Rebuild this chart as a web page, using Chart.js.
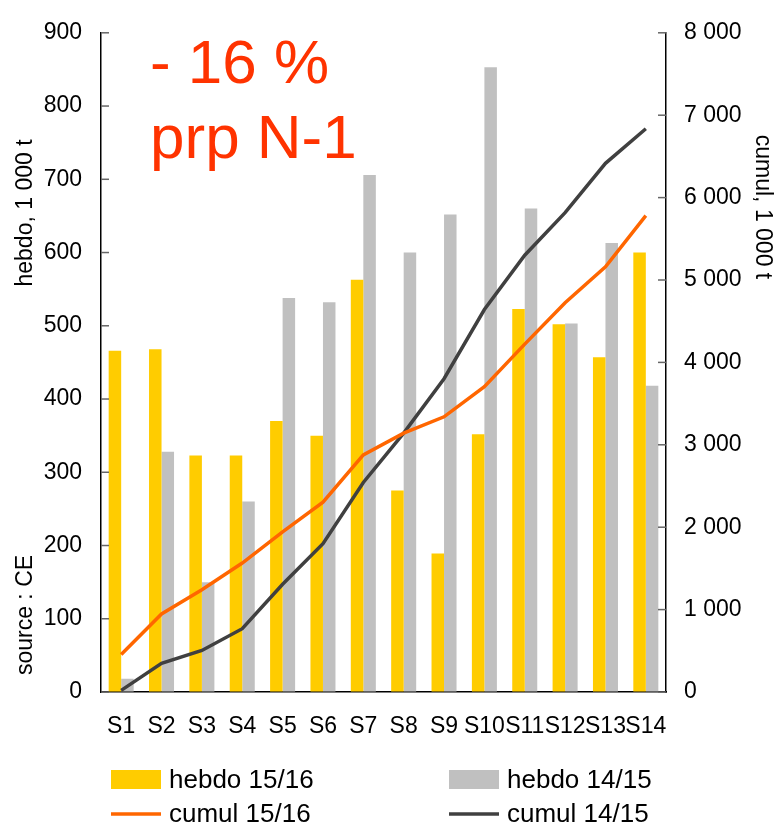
<!DOCTYPE html>
<html>
<head>
<meta charset="utf-8">
<script src="https://cdn.jsdelivr.net/npm/chart.js@4/dist/chart.umd.min.js"></script>
<style>
  body { margin: 0; background: #fff; }
  canvas { display: block; }
</style>
</head>
<body>
<canvas id="c" width="775" height="824"></canvas>
<script>
// weeks
var weeks = ["S1","S2","S3","S4","S5","S6","S7","S8","S9","S10","S11","S12","S13","S14"];

// weekly volumes, 1 000 t
var hebdo1516 = [466, 468, 323, 323, 370, 350, 563, 275, 189, 352, 523, 502, 457, 600];
var hebdo1415 = [18, 328, 150, 260, 538, 532, 706, 600, 652, 853, 660, 503, 613, 418];

// cumulated volumes, 1 000 t
var cumul1516 = [455, 947, 1240, 1565, 1943, 2303, 2878, 3142, 3340, 3706, 4222, 4725, 5160, 5781];
var cumul1415 = [20, 348, 504, 768, 1307, 1799, 2543, 3142, 3802, 4641, 5301, 5817, 6416, 6836];

var leftTicks = [0, 100, 200, 300, 400, 500, 600, 700, 800, 900];
var rightTicks = [0, 1000, 2000, 3000, 4000, 5000, 6000, 7000, 8000];

var FONT = "'Liberation Sans', Arial, sans-serif";

function thousands(v) {
    if (v < 1000) return String(v);
    return Math.floor(v / 1000) + " " + String(v % 1000).padStart(3, "0");
}

// inward tick marks, axis titles, big note, legend
var decor = {
    id: "decor",
    afterDatasetsDraw: function(chart) {
        var ctx = chart.ctx;
        var a = chart.chartArea;
        var yl = chart.scales.y;
        var yr = chart.scales.y2;
        ctx.save();
        ctx.strokeStyle = "#666";
        ctx.lineWidth = 1.5;
        leftTicks.forEach(function(v) {
            var y = yl.getPixelForValue(v);
            ctx.beginPath(); ctx.moveTo(a.left, y); ctx.lineTo(a.left + 8, y); ctx.stroke();
        });
        rightTicks.forEach(function(v) {
            var y = yr.getPixelForValue(v);
            ctx.beginPath(); ctx.moveTo(a.right - 8, y); ctx.lineTo(a.right, y); ctx.stroke();
        });
        ctx.restore();
    },
    afterDraw: function(chart) {
        var ctx = chart.ctx;
        ctx.save();
        ctx.fillStyle = "#000";
        ctx.font = "23px " + FONT;
        ctx.textAlign = "center";
        ctx.textBaseline = "middle";

        ctx.save();
        ctx.translate(26, 213);
        ctx.rotate(-Math.PI / 2);
        ctx.fillText("hebdo, 1 000 t", 0, 0);
        ctx.restore();

        ctx.save();
        ctx.translate(26, 615);
        ctx.rotate(-Math.PI / 2);
        ctx.fillText("source : CE", 0, 0);
        ctx.restore();

        ctx.save();
        ctx.translate(762, 207);
        ctx.rotate(Math.PI / 2);
        ctx.fillText("cumul, 1 000 t", 0, 0);
        ctx.restore();

        // note
        ctx.fillStyle = "#FF3300";
        ctx.font = "62px " + FONT;
        ctx.textAlign = "left";
        ctx.textBaseline = "alphabetic";
        ctx.fillText("- 16 %", 150, 83);
        ctx.fillText("prp N-1", 150, 158);

        // legend, two columns
        var ds = chart.data.datasets;
        var spots = [[111, 780], [449, 780], [111, 814], [449, 814]];
        ctx.font = "26px " + FONT;
        ctx.textBaseline = "middle";
        ds.forEach(function(d, i) {
            var x = spots[i][0], y = spots[i][1];
            if (d.type === "bar") {
                ctx.fillStyle = d.backgroundColor;
                ctx.fillRect(x, y - 10, 50, 19);
            } else {
                ctx.strokeStyle = d.borderColor;
                ctx.lineWidth = 3.5;
                ctx.beginPath(); ctx.moveTo(x, y); ctx.lineTo(x + 50, y); ctx.stroke();
            }
            ctx.fillStyle = "#000";
            ctx.fillText(d.label, x + 58, y + 1);
        });
        ctx.restore();
    }
};

new Chart(document.getElementById("c"), {
    data: {
        labels: weeks,
        datasets: [
            { type: "bar", label: "hebdo 15/16", data: hebdo1516, backgroundColor: "#FFCC00", yAxisID: "y", order: 2,
              categoryPercentage: 0.62, barPercentage: 1.0 },
            { type: "bar", label: "hebdo 14/15", data: hebdo1415, backgroundColor: "#C0C0C0", yAxisID: "y", order: 2,
              categoryPercentage: 0.62, barPercentage: 1.0 },
            { type: "line", label: "cumul 15/16", data: cumul1516, borderColor: "#FF6600", borderWidth: 3.5,
              pointRadius: 0, tension: 0, yAxisID: "y2", order: 0 },
            { type: "line", label: "cumul 14/15", data: cumul1415, borderColor: "#404040", borderWidth: 3.5,
              pointRadius: 0, tension: 0, yAxisID: "y2", order: 1 }
        ]
    },
    options: {
        responsive: false,
        animation: false,
        layout: { padding: { top: 25, left: 0, right: 0, bottom: 0 } },
        plugins: { legend: { display: false }, tooltip: { enabled: false } },
        scales: {
            x: {
                offset: true,
                grid: { display: true, drawOnChartArea: false, drawTicks: false },
                border: { display: true, color: "#000", width: 1.5 },
                ticks: { color: "#000", font: { family: FONT, size: 23 }, padding: 21,
                         autoSkip: false, maxRotation: 0, minRotation: 0 },
                afterFit: function(s) { s.height = 132; }
            },
            y: {
                position: "left",
                min: 0, max: 900,
                grid: { display: true, drawOnChartArea: false, drawTicks: false },
                border: { display: true, color: "#000", width: 1.5 },
                ticks: { stepSize: 100, color: "#000", font: { family: FONT, size: 23 }, padding: 19 },
                afterFit: function(s) { s.width = 101; }
            },
            y2: {
                position: "right",
                min: 0, max: 8000,
                grid: { display: true, drawOnChartArea: false, drawTicks: false },
                border: { display: true, color: "#000", width: 1.5 },
                ticks: { stepSize: 1000, color: "#000", font: { family: FONT, size: 23 }, padding: 18,
                         callback: function(v) { return thousands(v); } },
                afterFit: function(s) { s.width = 109; }
            }
        }
    },
    plugins: [decor]
});
</script>
</body>
</html>
